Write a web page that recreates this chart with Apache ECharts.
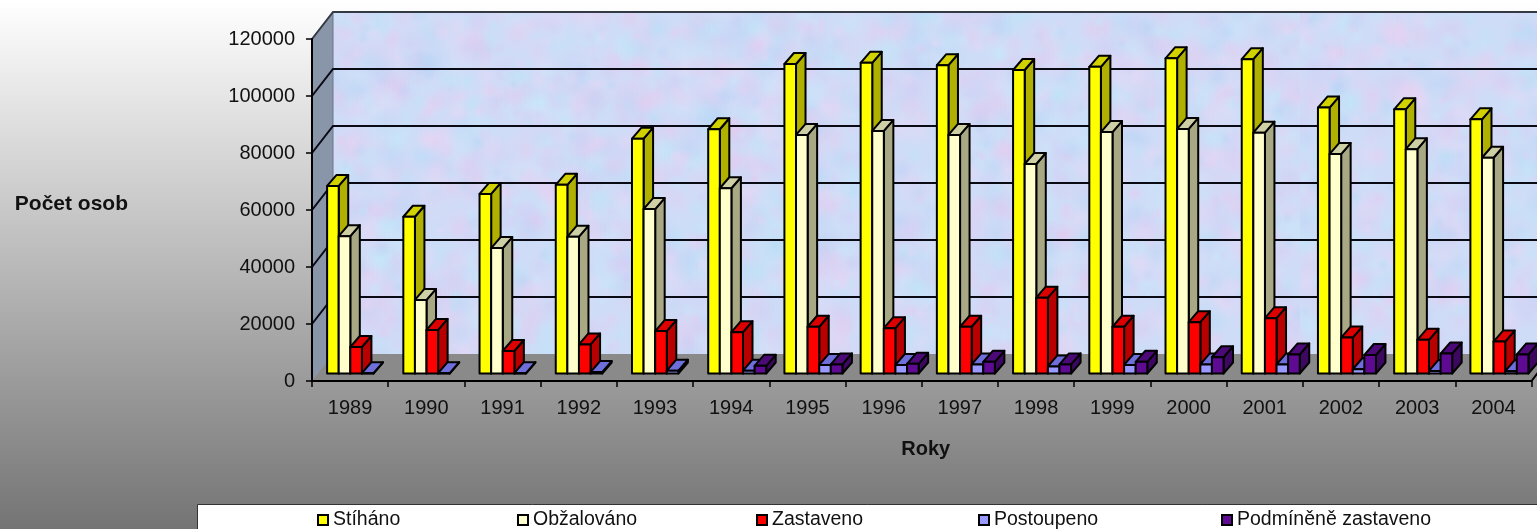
<!DOCTYPE html>
<html><head><meta charset="utf-8">
<style>html,body{margin:0;padding:0;background:#fff}#c{width:1537px;height:529px}</style>
<script src="https://cdn.jsdelivr.net/npm/echarts@6/dist/echarts.min.js"></script>
</head><body><div id="c"></div>
<script>
const categories = ['1989','1990','1991','1992','1993','1994','1995','1996','1997','1998','1999','2000','2001','2002','2003','2004'];
const stihano = [65800,55000,63000,66200,82400,85700,108600,109000,108200,106500,107600,110600,110300,93300,92700,89200];
const obzalovano = [48200,25800,44000,48000,57700,65000,83700,85100,83700,73500,84700,85800,84500,77000,78700,75700];
const zastaveno = [9300,15300,7900,10200,14900,14500,16400,15900,16400,26600,16400,18000,19400,12600,11800,11200];
const postoupeno = [100,100,100,500,1000,1000,3000,3000,3200,2500,3000,3200,3200,1500,900,800];
const podminene = [null,null,null,null,null,2700,3200,3400,4100,3200,4100,5700,6700,6500,7000,6700];
const yTicks = [0,20000,40000,60000,80000,100000,120000];

const palette = [
  {name:'Stíháno',front:'#ffff00',top:'#d2d200',side:'#b0b000',values:stihano,legendLeft:317},
  {name:'Obžalováno',front:'#ffffcc',top:'#cfcfa6',side:'#a8a884',values:obzalovano,legendLeft:517},
  {name:'Zastaveno',front:'#ff0000',top:'#dd0000',side:'#b80000',values:zastaveno,legendLeft:756},
  {name:'Postoupeno',front:'#9999ff',top:'#6f6fdc',side:'#5c5cb0',values:postoupeno,legendLeft:978},
  {name:'Podmíněně zastaveno',front:'#5f0a92',top:'#4c0a78',side:'#3c0860',values:podminene,legendLeft:1221}
];

// Decorative wall texture only (no data comes from this)
function wallTexture(){
  const W=1300,H=360,cv=document.createElement('canvas');cv.width=W;cv.height=H;
  const g=cv.getContext('2d');g.fillStyle='#cfdcf7';g.fillRect(0,0,W,H);
  const f=n=>{const s=Math.sin(n)*43758.5453;return s-Math.floor(s)};
  const cols=['232,200,238','186,230,248','210,204,244','182,212,244','236,214,244','198,234,250','226,206,240'];
  for(let i=1;i<3000;i++){
    const x=f(i*12.9898)*W,y=f(i*78.233)*H,r=5+f(i*37.719)*16,c=cols[i%cols.length];
    const rg=g.createRadialGradient(x,y,0,x,y,r);
    rg.addColorStop(0,'rgba('+c+',0.4)');rg.addColorStop(1,'rgba('+c+',0)');
    g.fillStyle=rg;g.fillRect(x-r,y-r,2*r,2*r);
  }
  return cv;
}
const texture = wallTexture();
const DEPTH_X=21, DEPTH_Y=-27, BAR_W=11.6, BAR_DX=9.5, BAR_DY=-11, BAR_BASE=-7.5, BAR_START=-23;
const LINE={stroke:'#000',lineWidth:2,lineJoin:'round'};
const fontFamily='Arial, "Liberation Sans", sans-serif';

function renderWalls(params,api){
  const cs=params.coordSys, x0=cs.x, x1=cs.x+cs.width;
  const y=v=>api.coord([0,v])[1];
  const yz=y(0), yt=y(120000);
  const poly=(pts,style,z2)=>({type:'polygon',shape:{points:pts},style,z2:z2||0});
  const kids=[
    poly([[x0+DEPTH_X,yt+DEPTH_Y],[x1+DEPTH_X,yt+DEPTH_Y],[x1+DEPTH_X,yz+DEPTH_Y],[x0+DEPTH_X,yz+DEPTH_Y]],{fill:{image:texture,repeat:'repeat'}}),
    poly([[x0,yt],[x0+DEPTH_X,yt+DEPTH_Y],[x0+DEPTH_X,yz+DEPTH_Y],[x0,yz]],{fill:'#8996aa'}),
    poly([[x0,yz],[x0+DEPTH_X,yz+DEPTH_Y],[x1+DEPTH_X,yz+DEPTH_Y],[x1,yz]],{fill:'#8a8a8a'})
  ];
  yTicks.slice(1).forEach(v=>{
    const yy=y(v);
    kids.push({type:'polyline',shape:{points:[[x0,yy],[x0+DEPTH_X,yy+DEPTH_Y],[x1+DEPTH_X,yy+DEPTH_Y]]},style:{stroke:v===120000?'#333a44':'#0a0a14',lineWidth:2,fill:null},z2:2});
  });
  kids.push({type:'line',shape:{x1:x0+DEPTH_X,y1:yt+DEPTH_Y,x2:x0+DEPTH_X,y2:yz+DEPTH_Y},style:{stroke:'#6a7484',lineWidth:1},z2:1});
  kids.push({type:'polyline',shape:{points:[[x0,yz],[x1,yz],[x1+DEPTH_X,yz+DEPTH_Y]]},style:{stroke:'#000',lineWidth:2,fill:null},z2:3});
  return {type:'group',children:kids};
}
function makeBarRenderer(i,p){
  return function(params,api){
    const v=api.value(1); if(v===null||isNaN(v)) return null;
    const c=api.coord([api.value(0),v]);
    const x=c[0]+BAR_START+i*BAR_W, yTop=c[1]+BAR_BASE;
    const yBot=api.coord([api.value(0),0])[1]+BAR_BASE, w=BAR_W;
    const poly=(pts,fill)=>({type:'polygon',shape:{points:pts},style:Object.assign({fill},LINE)});
    return {type:'group',children:[
      poly([[x+w,yTop],[x+w+BAR_DX,yTop+BAR_DY],[x+w+BAR_DX,yBot+BAR_DY],[x+w,yBot]],p.side),
      poly([[x,yTop],[x+BAR_DX,yTop+BAR_DY],[x+w+BAR_DX,yTop+BAR_DY],[x+w,yTop]],p.top),
      poly([[x,yTop],[x+w,yTop],[x+w,yBot],[x,yBot]],p.front)
    ]};
  };
}
const series=[{type:'custom',name:'walls',silent:true,z:1,data:[[0,0]],renderItem:renderWalls,encode:{x:0,y:1}}];
palette.forEach((p,i)=>series.push({
  type:'custom',name:p.name,z:3+i,silent:true,
  itemStyle:{color:p.front},
  encode:{x:0,y:1},
  data:categories.map((c,k)=>[k,p.values[k]]),
  renderItem:makeBarRenderer(i,p)
}));

const chart=echarts.init(document.getElementById('c'),null,{renderer:'canvas',width:1537,height:529});
chart.setOption({
  animation:false,
  backgroundColor:{type:'linear',x:0,y:0,x2:0,y2:1,colorStops:[{offset:0,color:'#ffffff'},{offset:1,color:'#747474'}]},
  grid:{left:312,right:5.5,top:39,bottom:148,containLabel:false,outerBoundsMode:'none'},
  xAxis:{type:'category',data:categories,z:2,
    axisLine:{show:true,lineStyle:{color:'#000',width:2}},
    axisTick:{show:true,alignWithLabel:false,length:6,lineStyle:{color:'#000',width:1.5}},
    axisLabel:{color:'#111',fontSize:20,fontFamily,margin:17,interval:0},
    name:'Roky',nameLocation:'middle',nameGap:58,
    nameTextStyle:{color:'#111',fontSize:20,fontWeight:'bold',fontFamily,padding:[0,0,0,8]}},
  yAxis:{type:'value',min:0,max:120000,interval:20000,z:2,
    splitLine:{show:false},
    axisLine:{show:true,lineStyle:{color:'#000',width:2}},
    axisTick:{show:true,length:6,lineStyle:{color:'#000',width:1.5}},
    axisLabel:{color:'#111',fontSize:20,fontFamily,margin:17,formatter:v=>String(v)},
    name:'Počet osob',nameLocation:'middle',nameRotate:0,nameGap:184,
    nameTextStyle:{color:'#111',fontSize:21,fontWeight:'bold',fontFamily,verticalAlign:'bottom',lineHeight:12}},
  legend:palette.map(p=>({
    show:true,data:[p.name],left:p.legendLeft,top:510,itemWidth:10,itemHeight:10,icon:'rect',padding:0,
    itemStyle:{borderColor:'#000',borderWidth:2},
    textStyle:{color:'#111',fontSize:19.5,fontFamily},selectedMode:false
  })),
  graphic:[{type:'rect',left:197,top:504,shape:{width:1360,height:40},style:{fill:'#fff',stroke:'#333',lineWidth:1},z:0}],
  series
});
</script></body></html>
